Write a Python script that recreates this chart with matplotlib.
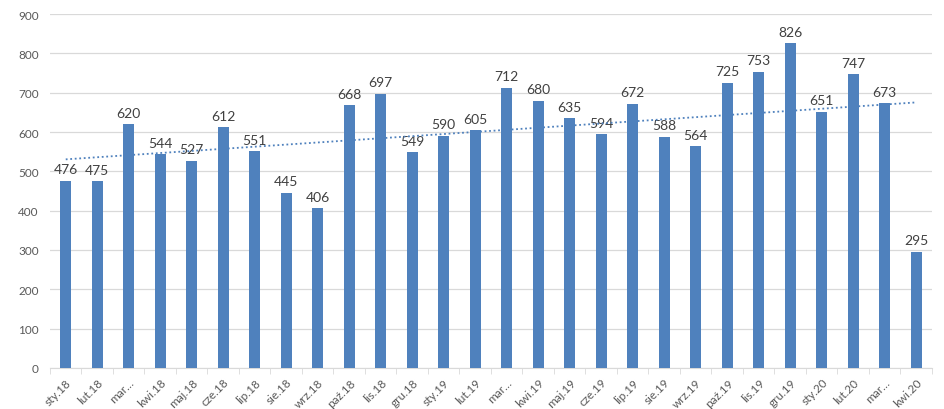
import matplotlib
matplotlib.use("Agg")
import matplotlib.pyplot as plt
import numpy as np

months = ["sty.18", "lut.18", "mar…", "kwi.18", "maj.18", "cze.18", "lip.18",
          "sie.18", "wrz.18", "paź.18", "lis.18", "gru.18", "sty.19", "lut.19",
          "mar…", "kwi.19", "maj.19", "cze.19", "lip.19", "sie.19", "wrz.19",
          "paź.19", "lis.19", "gru.19", "sty.20", "lut.20", "mar…", "kwi.20"]
values = [476, 475, 620, 544, 527, 612, 551, 445, 406, 668, 697, 549, 590, 605,
          712, 680, 635, 594, 672, 588, 564, 725, 753, 826, 651, 747, 673, 295]

plt.rcParams['font.family'] = ['Lato', 'DejaVu Sans']

fig = plt.figure(figsize=(9.45, 4.1), dpi=100)
ax = fig.add_axes([50/945, 41/410, 882/945, 354/410])

x = np.arange(len(values))
bar_color = "#4f81bd"
ax.bar(x, values, width=0.34, color=bar_color, zorder=3)

for xi, v in zip(x, values):
    ax.text(xi, v + 14, str(v), ha="center", va="bottom", fontsize=10, color="#404040", zorder=4)

# linear trendline
k, b = np.polyfit(x, values, 1)
ax.plot(x, k * x + b, linestyle=(0, (1, 1.5)), color=bar_color, linewidth=1.3, zorder=4)

ax.set_xlim(-0.5, len(values) - 0.5)
ax.set_ylim(0, 900)
ax.set_yticks(range(0, 901, 100))
ax.yaxis.grid(True, color="#d9d9d9", linewidth=0.9, zorder=0)
ax.tick_params(axis="y", length=0, labelsize=8.5, labelcolor="#595959", pad=8)

ax.set_xticks(x)
ax.set_xticklabels(months, rotation=45, ha="right", rotation_mode="anchor",
                   fontsize=8.5, color="#595959")
ax.set_xticks(np.arange(-0.5, len(values), 1), minor=True)
ax.tick_params(axis="x", which="major", length=0, pad=6)
ax.tick_params(axis="x", which="minor", length=4, color="#d9d9d9")

for s in ["top", "right", "left"]:
    ax.spines[s].set_visible(False)
ax.spines["bottom"].set_color("#d9d9d9")

fig.savefig("out.png", dpi=100)
